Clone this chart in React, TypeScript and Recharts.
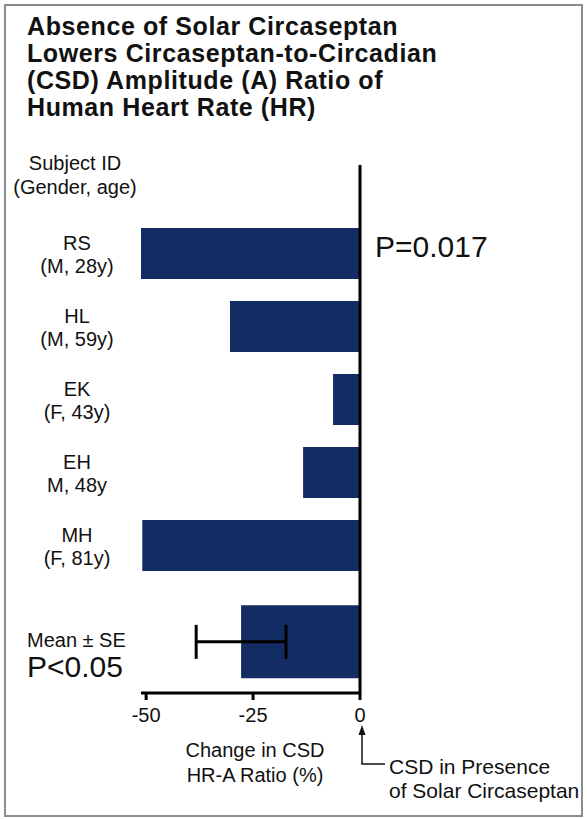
import React from 'react';
import { BarChart, Bar, XAxis, YAxis, ReferenceLine, ErrorBar } from 'recharts';

// values (% change in CSD HR-A ratio)
const subjectIds = ['RS', 'HL', 'EK', 'EH', 'MH', 'Mean'];
const subjectDetails = ['(M, 28y)', '(M, 59y)', '(F, 43y)', 'M, 48y', '(F, 81y)', ''];
const subjectChange = [-51.2, -30.4, -6.3, -13.3, -50.9];
const meanChange = -27.8;
const meanSE = 10.5;
const xTicks = [-50, -25, 0];

const chartData = subjectIds.map((id, i) =>
  i < subjectChange.length
    ? { id, detail: subjectDetails[i], change: subjectChange[i] }
    : { id, detail: '', mean: meanChange, err: meanSE }
);

const FONT = '"Liberation Sans", Arial, Helvetica, sans-serif';
const NAVY = '#142c64';

const SubjectTick = (props: any) => {
  const { x, y, payload, index } = props;
  const row = chartData[index];
  if (!row || row.change === undefined) return null;
  return (
    <text x={x - 64} y={y} textAnchor="middle" fontFamily={FONT} fontSize={20} fill="#111">
      <tspan x={x - 64} dy={-4}>{payload.value}</tspan>
      <tspan x={x - 64} dy={23}>{row.detail}</tspan>
    </text>
  );
};

const abs = (style: React.CSSProperties): React.CSSProperties => ({
  position: 'absolute',
  fontFamily: FONT,
  color: '#111',
  whiteSpace: 'nowrap',
  ...style,
});

const App: React.FC = () => {
  return (
    <div style={{ position: 'absolute', left: 0, top: 0, width: 587, height: 819, background: '#fff' }}>
      <div
        style={{
          position: 'absolute',
          left: 4,
          top: 4,
          width: 575,
          height: 809,
          border: '2px solid #8c8c8c',
        }}
      />
      <div style={abs({ left: 27, top: 13, fontSize: 25, lineHeight: '27px', letterSpacing: 0.6, fontWeight: 'bold' })}>
        Absence of Solar Circaseptan
        <br />
        Lowers Circaseptan-to-Circadian
        <br />
        (CSD) Amplitude (A) Ratio of
        <br />
        Human Heart Rate (HR)
      </div>

      <BarChart
        width={587}
        height={819}
        data={chartData}
        layout="vertical"
        margin={{ top: 165, right: 227, left: 0, bottom: 96 }}
        style={{ position: 'absolute', left: 0, top: 0 }}
      >
        <XAxis
          type="number"
          domain={['dataMin', 0]}
          ticks={xTicks}
          height={30}
          axisLine={{ stroke: '#000', strokeWidth: 3 }}
          tickLine={{ stroke: '#000', strokeWidth: 3 }}
          tickSize={7}
          tickMargin={8}
          tick={{ fill: '#111', fontSize: 20, fontFamily: FONT }}
        />
        <YAxis
          yAxisId="a"
          type="category"
          dataKey="id"
          width={141}
          axisLine={false}
          tickLine={false}
          tickSize={0}
          tickMargin={0}
          padding={{ top: 52, bottom: 38 }}
          tick={<SubjectTick />}
          interval={0}
        />
        <YAxis
          yAxisId="b"
          type="category"
          dataKey="id"
          hide
          padding={{ top: 66, bottom: 14 }}
        />
        <Bar yAxisId="a" dataKey="change" fill={NAVY} barSize={51} isAnimationActive={false} />
        <Bar yAxisId="b" dataKey="mean" fill={NAVY} barSize={73} isAnimationActive={false}>
          <ErrorBar dataKey="err" direction="x" width={17} stroke="#000" strokeWidth={3} />
        </Bar>
        <ReferenceLine yAxisId="a" x={0} stroke="#000" strokeWidth={3} />
      </BarChart>

      <div style={abs({ left: 0, width: 150, top: 151, fontSize: 20, lineHeight: '24px', textAlign: 'center' })}>
        Subject ID
        <br />
        (Gender, age)
      </div>
      <div style={abs({ left: 375, top: 232, fontSize: 30, lineHeight: '30px' })}>P=0.017</div>
      <div style={abs({ left: 27, top: 628, fontSize: 20, lineHeight: '24px' })}>Mean ± SE</div>
      <div style={abs({ left: 27, top: 652, fontSize: 30, lineHeight: '30px' })}>P&lt;0.05</div>
      <div style={abs({ left: 155, width: 200, top: 738, fontSize: 20, lineHeight: '25px', textAlign: 'center' })}>
        Change in CSD
        <br />
        HR-A Ratio (%)
      </div>
      <div style={abs({ left: 389, top: 755, fontSize: 21, lineHeight: '24px' })}>
        CSD in Presence
        <br />
        of Solar Circaseptan
      </div>
      <svg width={587} height={819} style={{ position: 'absolute', left: 0, top: 0, pointerEvents: 'none' }}>
        <polyline points="362,733 362,764 385,764" fill="none" stroke="#111" strokeWidth={1.5} />
        <polygon points="362,725 358.5,735 365.5,735" fill="#111" />
      </svg>
    </div>
  );
};

export default App;
